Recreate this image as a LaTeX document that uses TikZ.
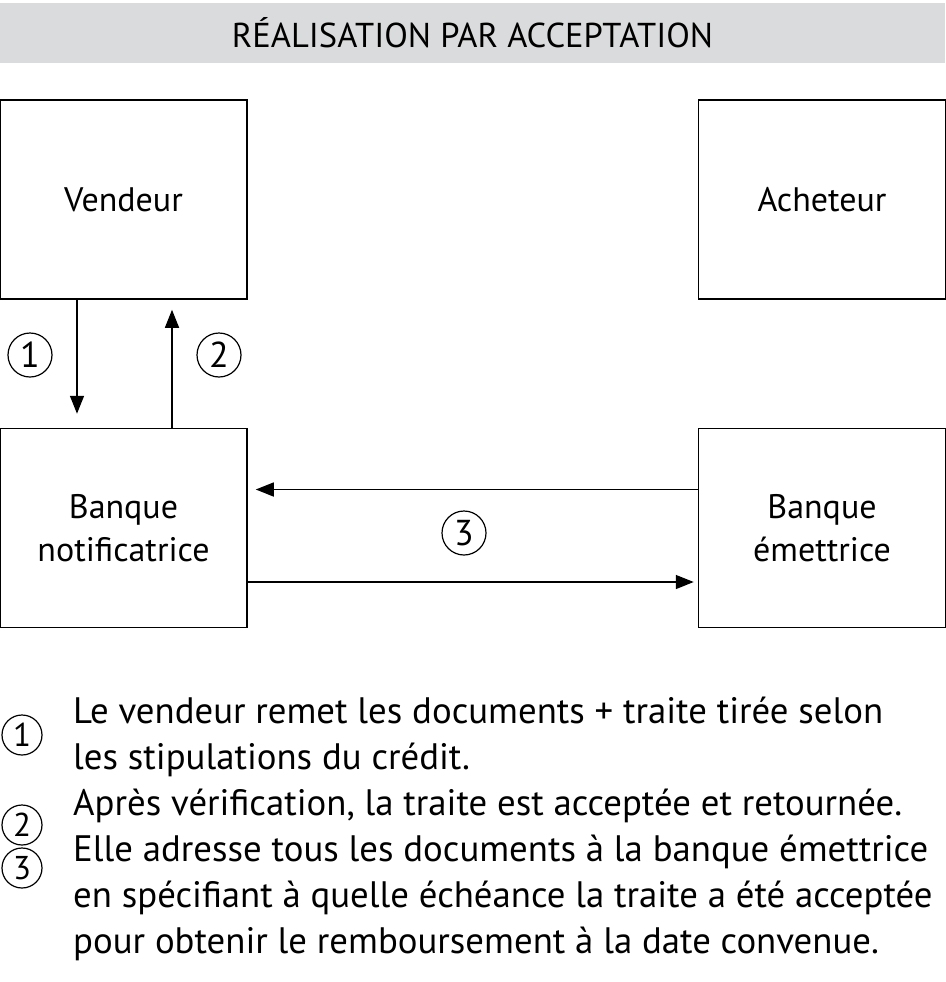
\documentclass[tikz,border=0pt]{standalone}
\usepackage{fontspec}
\setmainfont{PT Sans}
\usepackage{xcolor}
\usetikzlibrary{arrows.meta,positioning,calc}
\definecolor{titlegray}{RGB}{218,219,220}
\tikzset{
	box/.style={draw, line width=1.5pt, minimum width=247pt, minimum height=199pt,
		align=center, inner sep=0pt, font=\fontsize{34}{43}\selectfont},
	ar/.style={line width=1.5pt, -{Triangle[length=18pt,width=14pt]}},
	num/.style={draw, circle, line width=1.2pt, minimum size=44pt, inner sep=0pt,
		font=\fontsize{36}{36}\selectfont},
	legnum/.style={num, minimum size=40pt, font=\fontsize{33}{33}\selectfont},
	legende/.style={align=left, inner sep=0pt, font=\fontsize{36.8}{46}\selectfont}
}

\begin{document}
\begin{tikzpicture}[x=1pt, y=-1pt]
    \useasboundingbox (0,0) rectangle (945,982);
    % bandeau du titre
    \fill[titlegray] (0,3) rectangle (945,63);
    \node[font=\fontsize{34.5}{34.5}\selectfont] (titre) at (472.5,33) {RÉALISATION PAR ACCEPTATION};
    \node[box] (vendeur) at (123.5,199.5) {Vendeur};
    \node[box, right=450pt of vendeur] (acheteur) {Acheteur};
    \node[box, below=128pt of vendeur] (notif) {Banque\\notificatrice};
    \node[box, right=450pt of notif] (emet) {Banque\\émettrice};
    \draw[ar] ([xshift=-46.5pt]vendeur.south) -- ([xshift=-46.5pt,yshift=14pt]notif.north);
    \draw[ar] ([xshift=48.5pt]notif.north) -- ([xshift=48.5pt,yshift=-10pt]vendeur.south);
    \draw[ar] ([yshift=38.5pt]emet.west) -- ([xshift=8pt,yshift=38.5pt]notif.east);
    \draw[ar] ([yshift=-54pt]notif.east) -- ([xshift=-4pt,yshift=-54pt]emet.west);
    \node[num] (n1) at (30,355) {1};
    \node[num] (n2) at (219,355) {2};
    \node[num] (n3) at (464,533) {3};
    % legende
    \node[legnum] (l1) at (22,735) {1};
    \node[legnum] (l2) at (22,825) {2};
    \node[legnum] (l3) at (22,868) {3};
    \node[legende, anchor=north west] (texte) at (73,697) {Le vendeur remet les documents + traite tirée selon\\
      les stipulations du crédit.\\
      Après vérification, la traite est acceptée et retournée.\\
      Elle adresse tous les documents à la banque émettrice\\
      en spécifiant à quelle échéance la traite a été acceptée\\
      pour obtenir le remboursement à la date convenue.};
\end{tikzpicture}
\end{document}
